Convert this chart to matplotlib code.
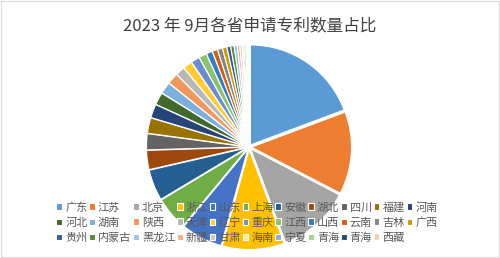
import numpy as np
import matplotlib.pyplot as plt
from matplotlib.patches import Rectangle

plt.rcParams['font.family'] = ['Noto Sans CJK SC', 'DejaVu Sans']

# provinces in chart order (clockwise from 12 o'clock)
provinces = ['广东', '江苏', '北京', '浙江', '山东', '上海', '安徽', '湖北', '四川', '福建', '河南',
             '河北', '湖南', '陕西', '天津', '辽宁', '重庆', '江西', '山西', '云南', '吉林', '广西',
             '贵州', '内蒙古', '黑龙江', '新疆', '甘肃', '海南', '宁夏', '青海', '青海', '西藏']

# share of patent applications (%)
shares = [19.3, 13.3, 11.7, 10.0, 6.7, 5.4, 5.0, 3.1, 2.6, 2.5, 2.2,
          2.0, 1.9, 1.8, 1.5, 1.5, 1.4, 1.25, 1.0, 0.85, 0.8, 0.7,
          0.6, 0.55, 0.5, 0.4, 0.35, 0.3, 0.28, 0.22, 0.17, 0.11]

# Office palette
colors = ['#5B9BD5', '#ED7D31', '#A5A5A5', '#FFC000', '#4472C4', '#70AD47',
          '#255E91', '#9E480E', '#636363', '#997300', '#264478', '#43682B',
          '#7CAFDD', '#F1975A', '#B7B7B7', '#FFCD33', '#698ED0', '#8CC168',
          '#327DC2', '#D26012', '#848484', '#CC9A00', '#335AA1', '#5A8A39',
          '#9DC3E6', '#F4B183', '#C9C9C9', '#FFE699', '#8FAADC', '#A9D18E',
          '#1F4E79', '#F8CBAD']

fig = plt.figure(figsize=(5.0, 2.58), dpi=100)
fig.patch.set_facecolor('white')
fig.add_artist(Rectangle((0.001, 0.002), 0.997, 0.995, transform=fig.transFigure,
                         fill=False, edgecolor='#D9D9D9', linewidth=0.8))

# pie axes: centre ~(249,147) px, radius ~100 px
r_px = 104
cx, cy = 249 / 500, 1 - 147 / 258
ax = fig.add_axes([cx - r_px / 500, cy - r_px / 258, 2 * r_px / 500, 2 * r_px / 258])
wedges, _ = ax.pie(shares, colors=colors, startangle=90, counterclock=False,
                   explode=[0.025] * len(shares),
                   wedgeprops=dict(edgecolor='white', linewidth=0.8))
ax.set_xlim(-1.04, 1.04)
ax.set_ylim(-1.04, 1.04)
ax.set_aspect('equal')

fig.text(0.5, 1 - 26 / 258, '2023 年 9月各省申请专利数量占比', ha='center', va='center',
         fontsize=12, color='#404040')

# legend fills column by column, so reorder to read row by row (11 per row)
ncol = 11
order = [r * ncol + c for c in range(ncol) for r in range(3) if r * ncol + c < len(provinces)]
fig.legend([wedges[i] for i in order], [provinces[i] for i in order], ncol=ncol, loc='center',
           bbox_to_anchor=(247 / 500, 1 - 222.5 / 258),
           frameon=False, fontsize=8, labelcolor='#595959',
           handlelength=0.5, handleheight=0.5, handletextpad=0.3,
           columnspacing=0.15, labelspacing=0.45, borderpad=0)

fig.savefig('out.png', dpi=100)
